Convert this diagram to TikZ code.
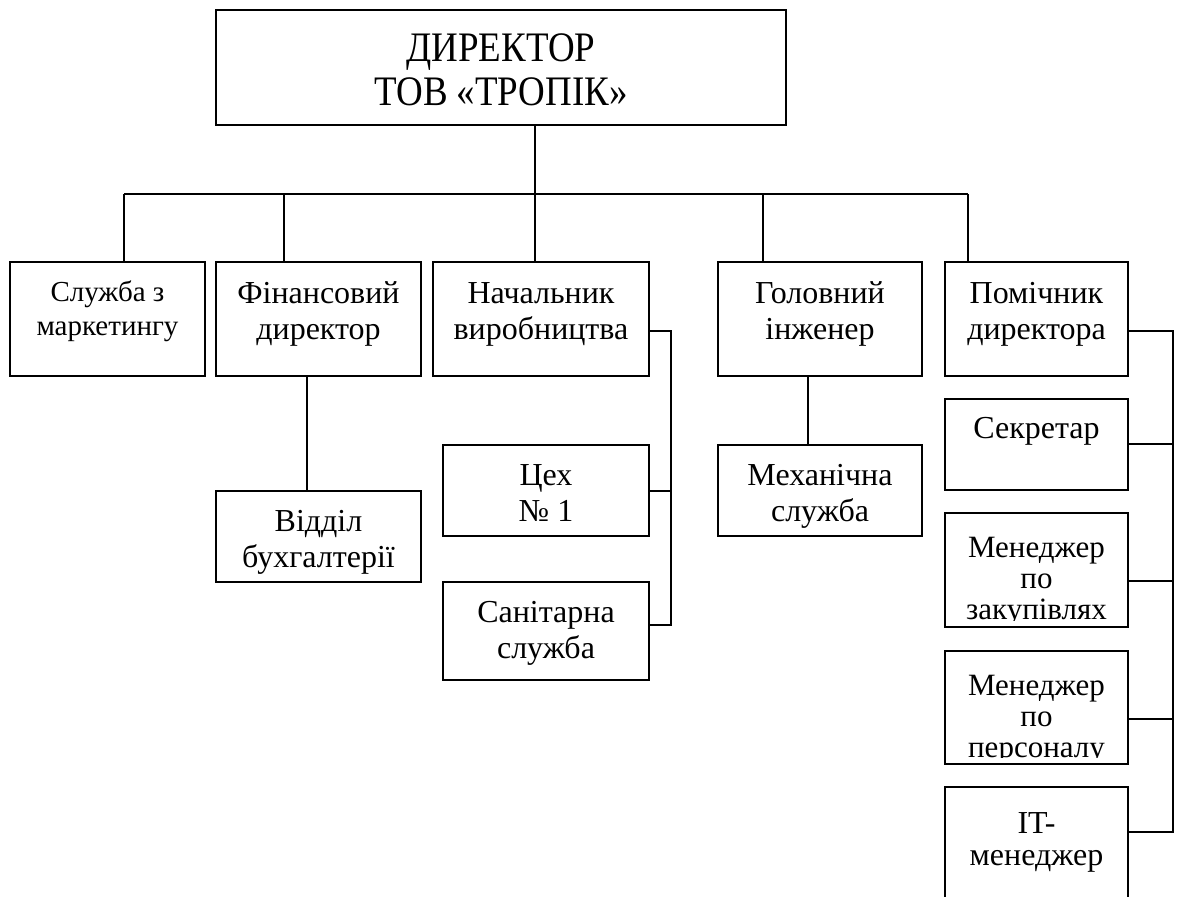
\documentclass[tikz,border=0pt]{standalone}
\usepackage{fontspec}
\setmainfont{Liberation Serif}
\newfontfamily\dirfont{Liberation Serif}[FakeStretch=0.88]
\begin{document}
\begin{tikzpicture}[x=1pt,y=-1pt,
  box/.style={draw, rectangle, inner sep=0pt, outer sep=0pt, line width=1.6pt},
  conn/.style={draw, line width=1.6pt},
  txt/.style={anchor=north, inner sep=0pt, outer sep=0pt, align=center, font=\fontsize{32}{36}\selectfont},
  txtsm/.style={anchor=north, inner sep=0pt, outer sep=0pt, align=center, font=\fontsize{29}{34}\selectfont},
  txtmg/.style={anchor=north, inner sep=0pt, outer sep=0pt, align=center, font=\fontsize{31}{31}\selectfont},
  txtit/.style={anchor=north, inner sep=0pt, outer sep=0pt, align=center, font=\fontsize{32}{32}\selectfont},
  txtdir/.style={anchor=north, inner sep=0pt, outer sep=0pt, align=center, font=\dirfont\fontsize{42}{44}\selectfont}]
\useasboundingbox (0,0) rectangle (1179,897);
\clip (0,0) rectangle (1179,897);
\fill[white] (0,0) rectangle (1179,897);

% boxes
\node[box, minimum width=570pt, minimum height=115pt] (dir) at (501,67.5) {};
\node[box, minimum width=195pt, minimum height=114pt] (mkt) at (107.5,319) {};
\node[box, minimum width=205pt, minimum height=114pt] (fin) at (318.5,319) {};
\node[box, minimum width=216pt, minimum height=114pt] (nach) at (541,319) {};
\node[box, minimum width=204pt, minimum height=114pt] (gol) at (820,319) {};
\node[box, minimum width=183pt, minimum height=114pt] (pom) at (1036.5,319) {};
\node[box, minimum width=205pt, minimum height=91pt] (buh) at (318.5,536.5) {};
\node[box, minimum width=206pt, minimum height=91pt] (ceh) at (546,490.5) {};
\node[box, minimum width=206pt, minimum height=98pt] (san) at (546,631) {};
\node[box, minimum width=204pt, minimum height=91pt] (mech) at (820,490.5) {};
\node[box, minimum width=183pt, minimum height=91pt] (sek) at (1036.5,444.5) {};
\node[box, minimum width=183pt, minimum height=114pt] (zak) at (1036.5,570) {};
\node[box, minimum width=183pt, minimum height=113pt] (per) at (1036.5,707.5) {};
\node[box, minimum width=183pt, minimum height=130pt] (it) at (1036.5,852) {};

% texts
\node[txtdir] at (501,30.2) {\strut ДИРЕКТОР\\\strut ТОВ «ТРОПІК»};
\node[txtsm] at (107.5,277.2) {\strut Служба з\\\strut маркетингу};
\node[txt] at (318.5,277.8) {\strut Фінансовий\\\strut директор};
\node[txt] at (541,277.8) {\strut Начальник\\\strut виробництва};
\node[txt] at (820,277.8) {\strut Головний\\\strut інженер};
\node[txt] at (1036.5,277.8) {\strut Помічник\\\strut директора};
\node[txt] at (318.5,505.8) {\strut Відділ\\\strut бухгалтерії};
\node[txt] at (546,459.8) {\strut Цех\\\strut № 1};
\node[txt] at (546,596.8) {\strut Санітарна\\\strut служба};
\node[txt] at (820,459.8) {\strut Механічна\\\strut служба};
\node[txt] at (1036.5,412.8) {\strut Секретар};
\begin{scope}
  \clip (zak.north west) rectangle ([yshift=7pt]zak.south east);
  \node[txtmg] at (1036.5,535.3) {\strut Менеджер\\\strut по\\\strut закупівлях};
\end{scope}
\begin{scope}
  \clip (per.north west) rectangle ([yshift=7pt]per.south east);
  \node[txtmg] at (1036.5,673.3) {\strut Менеджер\\\strut по\\\strut персоналу};
\end{scope}
\node[txtit] at (1036.5,810.6) {\strut IT-\\\strut менеджер};

% connectors
\coordinate (hub) at (535,194);
\coordinate (b1) at (124,194);
\coordinate (b2) at (284,194);
\coordinate (b4) at (763,194);
\coordinate (b5) at (968,194);
\draw[conn] (dir.south -| hub) -- (hub);
\draw[conn] (b1) -- (b5);
\draw[conn] (b1) -- (b1 |- mkt.north);
\draw[conn] (b2) -- (b2 |- fin.north);
\draw[conn] (hub) -- (hub |- nach.north);
\draw[conn] (b4) -- (b4 |- gol.north);
\draw[conn] (b5) -- (b5 |- pom.north);

\coordinate (fx) at (307,0);
\draw[conn] (fin.south -| fx) -- (buh.north -| fx);
\coordinate (gx) at (808,0);
\draw[conn] (gol.south -| gx) -- (mech.north -| gx);

\coordinate (nt) at (671,331);
\coordinate (nm) at (671,491);
\coordinate (nb) at (671,625);
\draw[conn] (nach.east |- nt) -- (nt) -- (nb) -- (san.east |- nb);
\draw[conn] (ceh.east |- nm) -- (nm);

\coordinate (pt) at (1173,331);
\coordinate (pb) at (1173,832);
\draw[conn] (pom.east |- pt) -- (pt) -- (pb) -- (it.east |- pb);
\draw[conn] (sek.east |- 0,444) -- (pt |- 0,444);
\draw[conn] (zak.east |- 0,581) -- (pt |- 0,581);
\draw[conn] (per.east |- 0,719) -- (pt |- 0,719);
\end{tikzpicture}
\end{document}
